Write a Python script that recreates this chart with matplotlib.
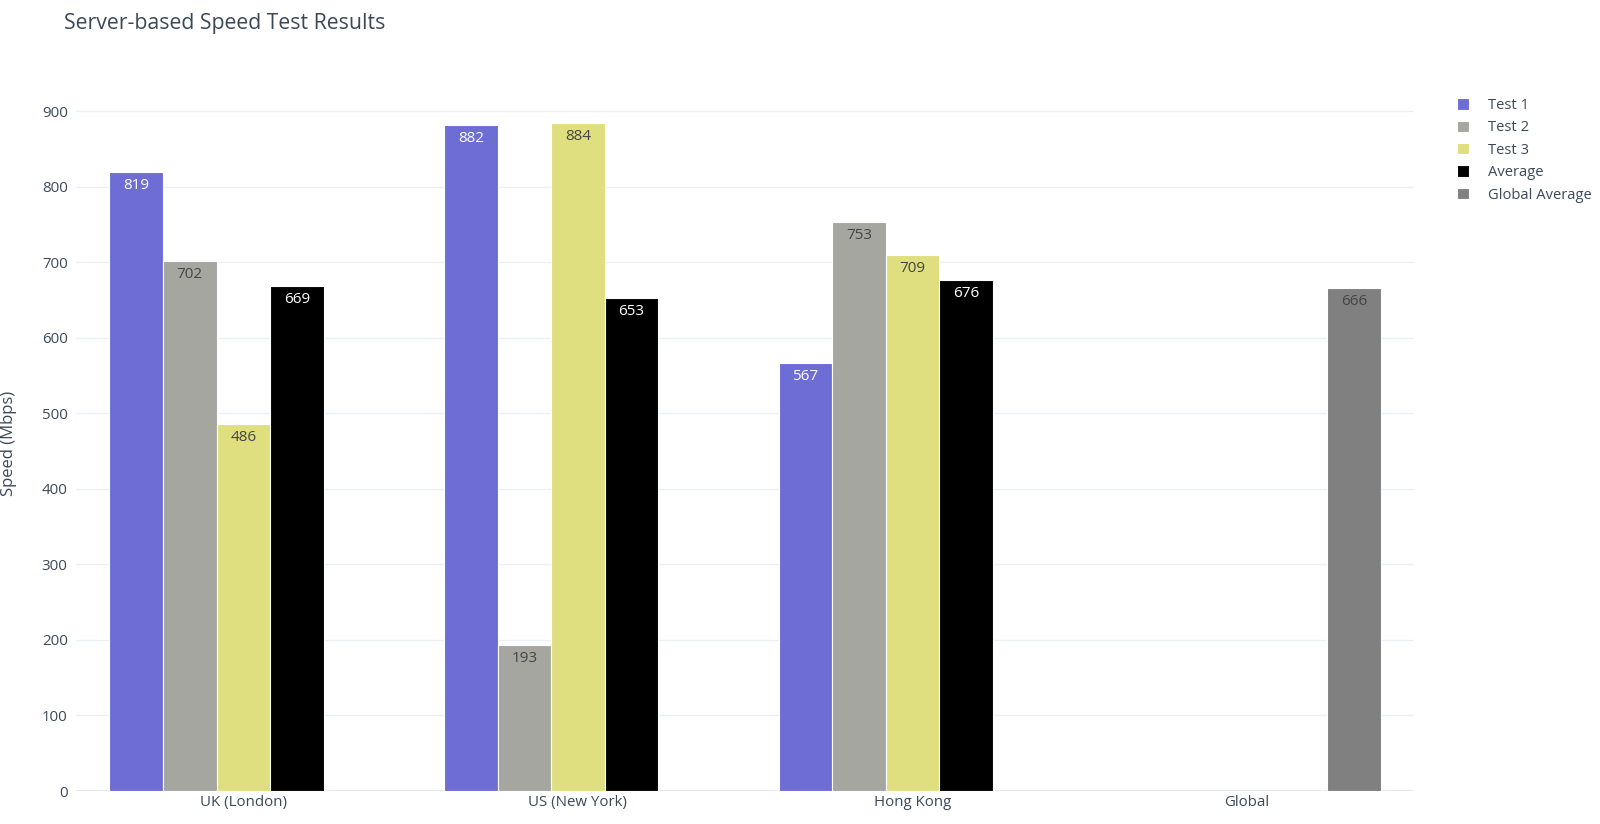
import matplotlib
matplotlib.use("Agg")
import matplotlib.pyplot as plt
import numpy as np

plt.rcParams['font.family'] = ['Open Sans', 'DejaVu Sans']

categories = ["UK (London)", "US (New York)", "Hong Kong", "Global"]
series_names = ["Test 1", "Test 2", "Test 3", "Average", "Global Average"]
test1 = [819, 882, 567, None]
test2 = [702, 193, 753, None]
test3 = [486, 884, 709, None]
average = [669, 653, 676, None]
global_average = [None, None, None, 666]

series_values = [test1, test2, test3, average, global_average]
colors = ["#6d6dd5", "#a6a6a0", "#dfdf80", "#000000", "#808080"]
label_colors = ["white", "#444444", "#444444", "white", "#444444"]
text_col = "#3a4858"

fig = plt.figure(figsize=(16, 8.24), dpi=100)
ax = fig.add_axes([0.0475, 0.04, 0.8365, 0.8435])

x = np.arange(len(categories))
n = len(series_names)
width = 0.8 / n
for i, (name, vals) in enumerate(zip(series_names, series_values)):
    offs = x - 0.4 + width * (i + 0.5)
    xs = [o for o, v in zip(offs, vals) if v is not None]
    ys = [v for v in vals if v is not None]
    bars = ax.bar(xs, ys, width=width, color=colors[i], edgecolor="white",
                  linewidth=0.8, label=name, zorder=3)
    for b, v in zip(bars, ys):
        ax.text(b.get_x() + b.get_width() / 2, v - 8, str(v), ha="center",
                va="top", fontsize=11, color=label_colors[i], zorder=4)

ax.set_xlim(-0.5, len(categories) - 0.5)
ax.set_ylim(0, 920)
ax.set_yticks(range(0, 901, 100))
ax.set_xticks(x)
ax.set_xticklabels(categories)
ax.grid(axis="y", color="#ebf0f8", linewidth=1, zorder=0)
ax.axhline(0, color="#e3e9f2", linewidth=2, zorder=2)
for s in ax.spines.values():
    s.set_visible(False)
ax.tick_params(axis="y", length=0, labelsize=10.8, colors=text_col, pad=6)
ax.tick_params(axis="x", length=0, labelsize=10.8, colors=text_col, pad=3)
ax.set_ylabel("Speed (Mbps)", fontsize=12, color=text_col, labelpad=18)

fig.text(0.04, 0.972, "Server-based Speed Test Results", fontsize=15.3,
         color=text_col, ha="left", va="center")

leg = ax.legend(loc="upper left", bbox_to_anchor=(1.022, 1.016), frameon=False,
                fontsize=10.6, handlelength=0.8, handleheight=0.8,
                labelspacing=0.5, handletextpad=1.3)
for t in leg.get_texts():
    t.set_color(text_col)

fig.savefig("out.png", dpi=100, facecolor="white")
